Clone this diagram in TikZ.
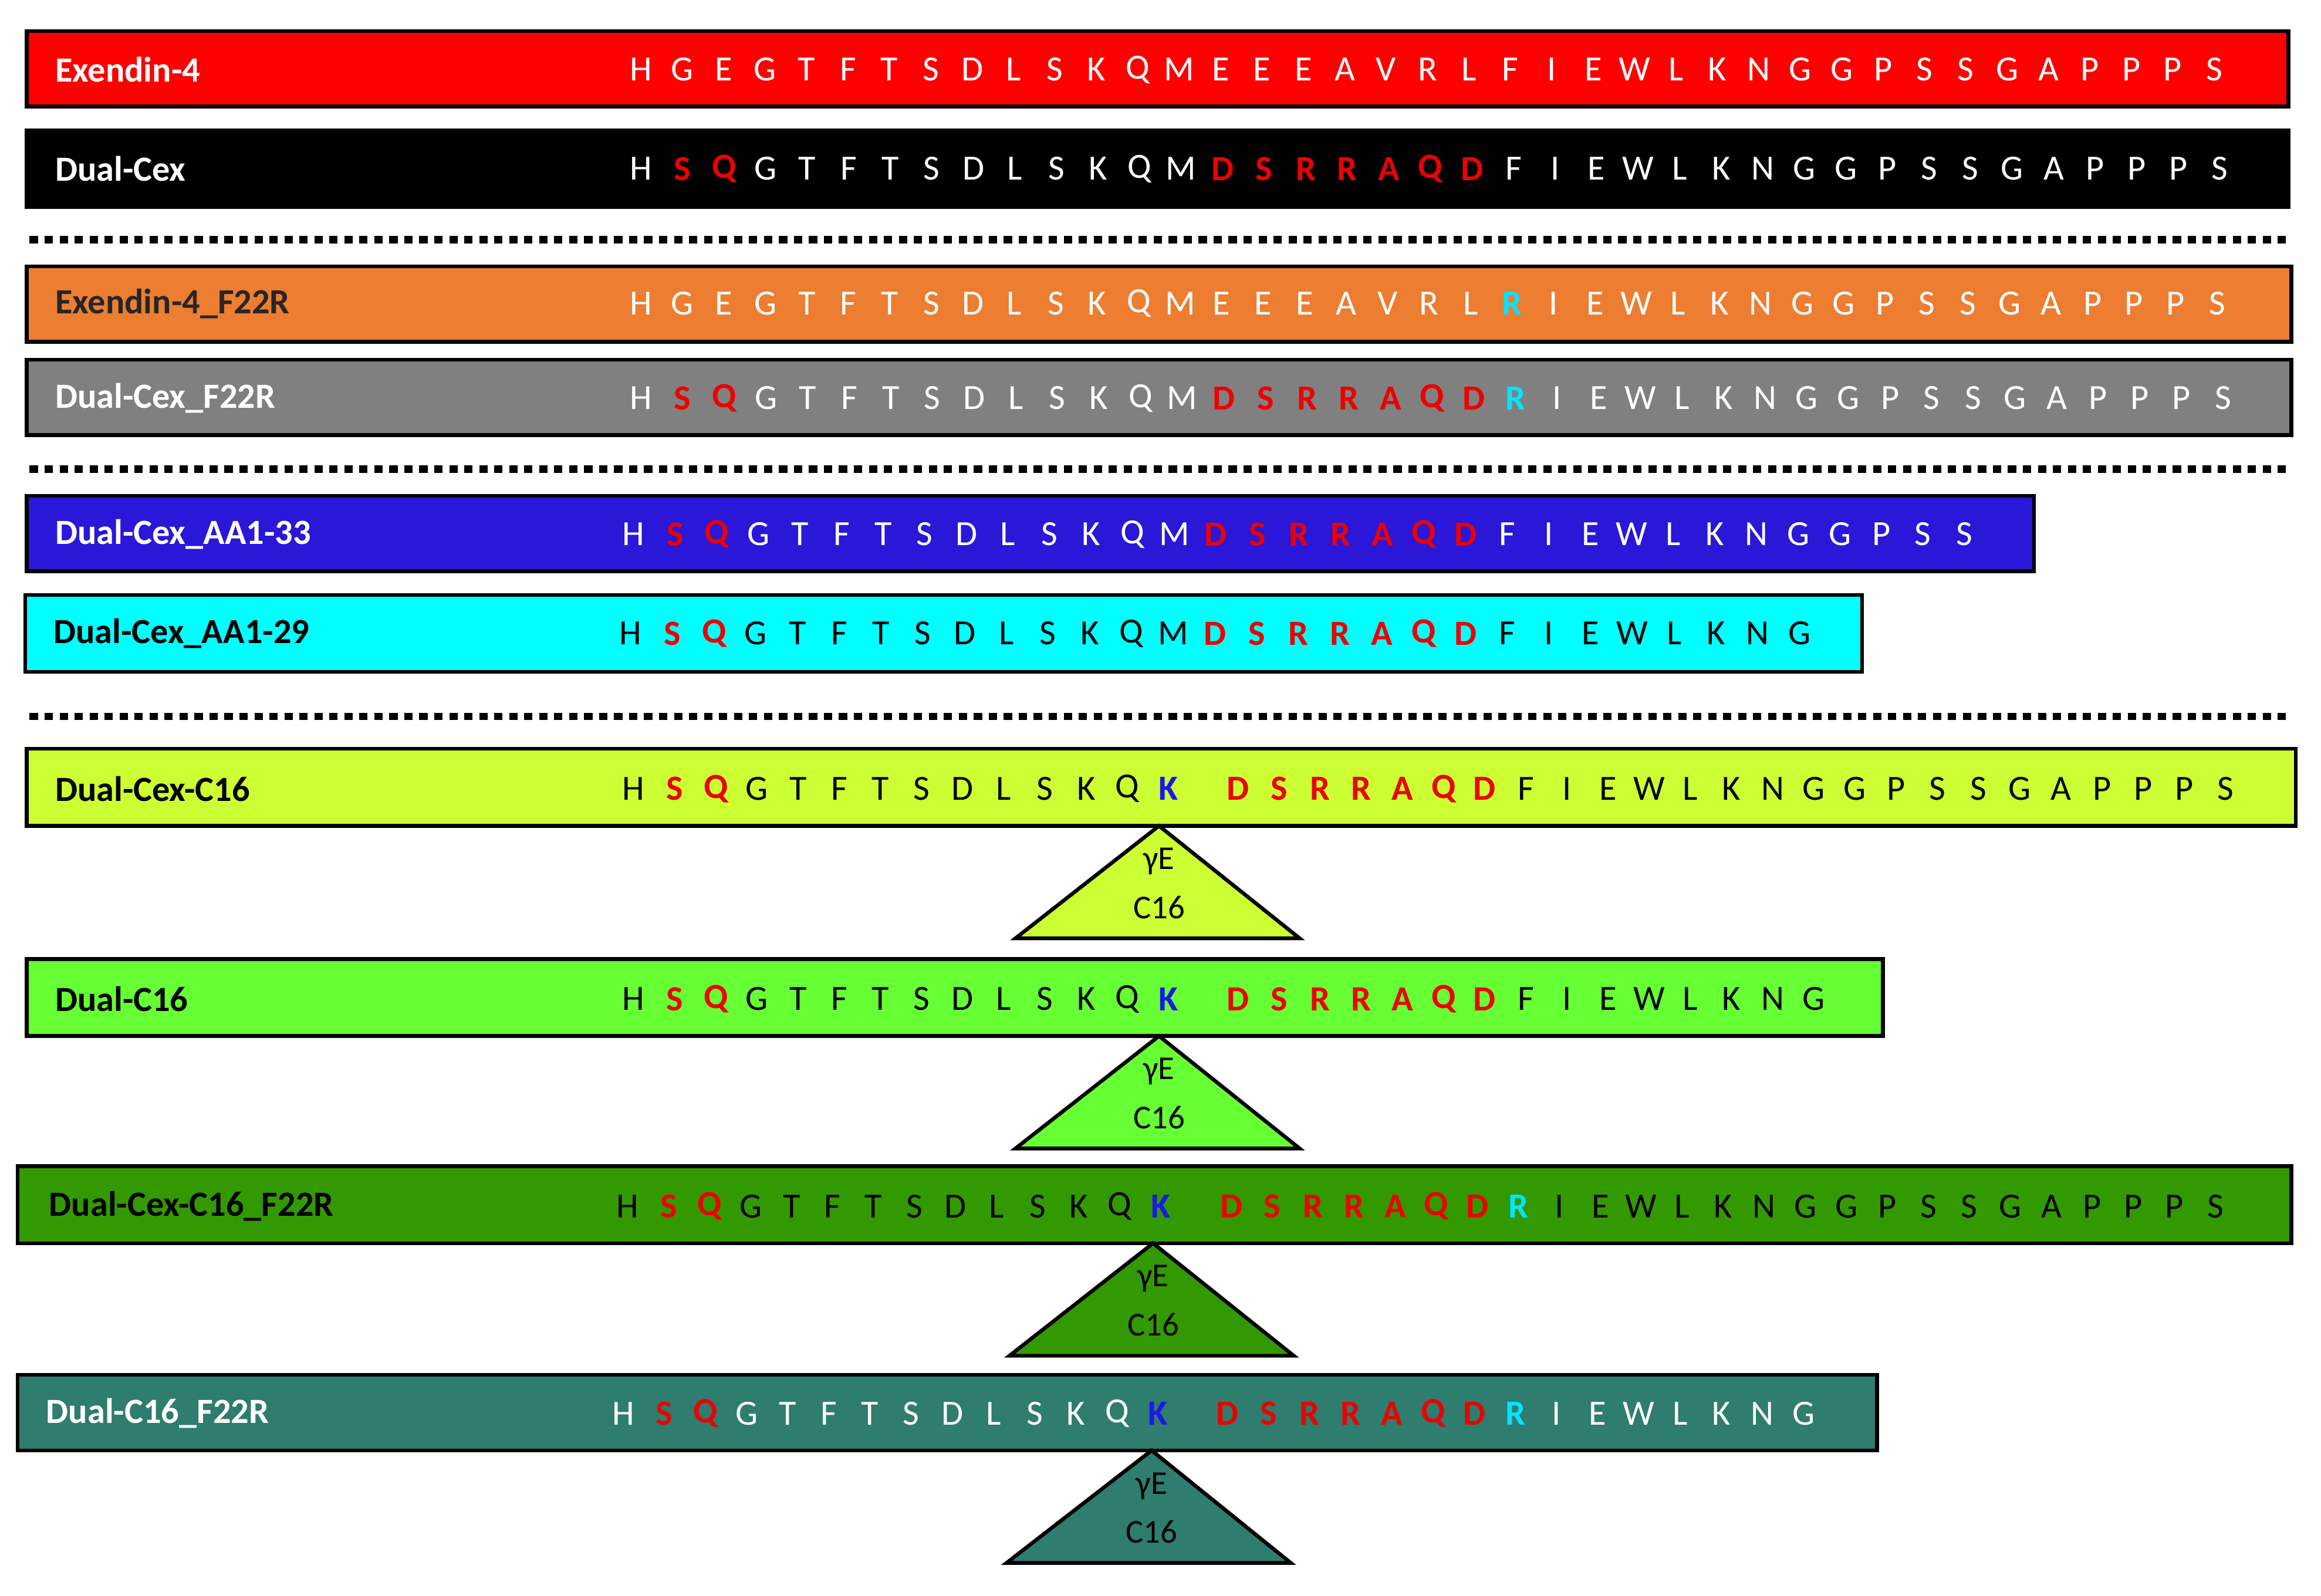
\documentclass[tikz,border=0pt]{standalone}
\usepackage{fontspec}
\setmainfont{Carlito}
\definecolor{cRed}{HTML}{FF0000}
\definecolor{cOrange}{HTML}{ED7D31}
\definecolor{cGray}{HTML}{808080}
\definecolor{cBlue}{HTML}{2B17D8}
\definecolor{cCyan}{HTML}{00FFFF}
\definecolor{cYG}{HTML}{CCFF33}
\definecolor{cLG}{HTML}{66FF33}
\definecolor{cDG}{HTML}{339900}
\definecolor{cTeal}{HTML}{2E7D6F}
\definecolor{aaRed}{HTML}{EE0000}
\definecolor{aaCyan}{HTML}{00E5FF}
\definecolor{aaBlue}{HTML}{1A1AE6}
\tikzset{
 pbox/.style={draw=black,line width=1.8pt},
 lbl/.style={font=\fontsize{17}{20}\selectfont\bfseries,anchor=west,inner sep=0},
 aa/.style={font=\fontsize{17}{20}\selectfont,anchor=center,inner sep=0},
 c-n/.style={text=seqbase},
 c-r/.style={text=aaRed,font=\fontsize{17}{20}\selectfont\bfseries},
 c-c/.style={text=aaCyan,font=\fontsize{17}{20}\selectfont\bfseries},
 c-k/.style={text=aaBlue,font=\fontsize{17}{20}\selectfont\bfseries},
 sep/.style={line width=3.5pt,dash pattern=on 4pt off 3.2pt},
 tri/.style={draw=black,line width=1.8pt},
 tt/.style={font=\fontsize{16}{19}\selectfont,inner sep=0}
}
\def\tailA{I/n,E/n,W/n,L/n,K/n,N/n,G/n}
\def\tailB{G/n,P/n,S/n,S/n}
\def\tailC{G/n,A/n,P/n,P/n,P/n,S/n}
\def\dualhead{H/n,S/r,Q/r,G/n,T/n,F/n,T/n,S/n,D/n,L/n,S/n,K/n,Q/n}
\def\dualmid{D/r,S/r,R/r,R/r,A/r,Q/r,D/r}
\def\exhead{H/n,G/n,E/n,G/n,T/n,F/n,T/n,S/n,D/n,L/n,S/n,K/n,Q/n,M/n,E/n,E/n,E/n,A/n,V/n,R/n,L/n}
% #1 x0, #2 y, #3 spacing, #4 gap, #5 base colour, #6 list
\newcommand\aaseq[6]{%
 \colorlet{seqbase}{#5}%
 \edef\aalist{#6}%
 \foreach \L/\C [count=\i from 0] in \aalist {%
  \pgfmathsetmacro\xx{#1+\i*#3+(\i>13)*#4}%
  \node[aa,c-\C] at (\xx,#2) {\L};
 }}
\begin{document}
\begin{tikzpicture}[x=0.025cm,y=-0.025cm]
\useasboundingbox (0,0) rectangle (1568,1078);
% row 1
\draw[pbox,fill=cRed] (18,21) rectangle (1546,72) coordinate (r1);
\node[lbl,text=white] (l1) at (37,47) {Exendin-4};
\aaseq{433}{47}{27.97}{0}{white}{\exhead,F/n,\tailA,\tailB,\tailC}
% row 2
\draw[pbox,fill=black] (18,88) rectangle (1546,140) coordinate (r2);
\node[lbl,text=white] (l2) at (37,114) {Dual-Cex};
\aaseq{433}{114}{28.07}{0}{white}{\dualhead,M/n,\dualmid,F/n,\tailA,\tailB,\tailC}
\coordinate (d1a) at (20,162); \coordinate (d1b) at (1546,162);
\draw[sep] (d1a) -- (d1b);
% row 3
\draw[pbox,fill=cOrange] (18,180) rectangle (1548,231) coordinate (r3);
\node[lbl,text=black!85] (l3) at (37,205) {Exendin-4\_F22R};
\aaseq{433}{205}{28.02}{0}{white}{\exhead,R/c,\tailA,\tailB,\tailC}
% row 4
\draw[pbox,fill=cGray] (18,243) rectangle (1548,294) coordinate (r4);
\node[lbl,text=white] (l4) at (37,269) {Dual-Cex\_F22R};
\aaseq{433}{269}{28.13}{0}{white}{\dualhead,M/n,\dualmid,R/c,\tailA,\tailB,\tailC}
\coordinate (d2a) at (20,317); \coordinate (d2b) at (1548,317);
\draw[sep] (d2a) -- (d2b);
% row 5
\draw[pbox,fill=cBlue] (18,335) rectangle (1374,386) coordinate (r5);
\node[lbl,text=white] (l5) at (37,361) {Dual-Cex\_AA1-33};
\aaseq{428}{361}{28.1}{0}{white}{\dualhead,M/n,\dualmid,F/n,\tailA,\tailB}
% row 6
\draw[pbox,fill=cCyan] (17,402) rectangle (1258,454) coordinate (r6);
\node[lbl,text=black] (l6) at (36,428) {Dual-Cex\_AA1-29};
\aaseq{426}{428}{28.2}{0}{black}{\dualhead,M/n,\dualmid,F/n,\tailA}
\coordinate (d3a) at (20,484); \coordinate (d3b) at (1548,484);
\draw[sep] (d3a) -- (d3b);
% row 7
\draw[pbox,fill=cYG] (18,506) rectangle (1551,558) coordinate (r7);
\node[lbl,text=black] (l7) at (37,533) {Dual-Cex-C16};
\aaseq{428}{533}{27.8}{19}{black}{\dualhead,K/k,\dualmid,F/n,\tailA,\tailB,\tailC}
\draw[tri,fill=cYG] (783,558) -- (878,634) -- (686,634) -- cycle;
\node[tt] (t7a) at (783,582) {γE};
\node[tt] (t7b) at (783,613) {C16};
% row 8
\draw[pbox,fill=cLG] (18,648) rectangle (1272,700) coordinate (r8);
\node[lbl,text=black] (l8) at (37,675) {Dual-C16};
\aaseq{428}{675}{27.8}{19}{black}{\dualhead,K/k,\dualmid,F/n,\tailA}
\draw[tri,fill=cLG] (783,700) -- (878,776) -- (686,776) -- cycle;
\node[tt] (t8a) at (783,724) {γE};
\node[tt] (t8b) at (783,755) {C16};
% row 9
\draw[pbox,fill=cDG] (12,788) rectangle (1548,840) coordinate (r9);
\node[lbl,text=black] (l9) at (33,815) {Dual-Cex-C16\_F22R};
\aaseq{424}{815}{27.7}{20}{black}{\dualhead,K/k,\dualmid,R/c,\tailA,\tailB,\tailC}
\draw[tri,fill=cDG] (779,840) -- (874,916) -- (682,916) -- cycle;
\node[tt] (t9a) at (779,864) {γE};
\node[tt] (t9b) at (779,895) {C16};
% row 10
\draw[pbox,fill=cTeal] (12,929) rectangle (1268,980) coordinate (r10);
\node[lbl,text=white] (l10) at (31,955) {Dual-C16\_F22R};
\aaseq{421}{955}{27.8}{19}{white}{\dualhead,K/k,\dualmid,R/c,\tailA}
\draw[tri,fill=cTeal] (778,980) -- (872,1056) -- (680,1056) -- cycle;
\node[tt] (t10a) at (778,1004) {γE};
\node[tt] (t10b) at (778,1035) {C16};
\end{tikzpicture}
\end{document}
